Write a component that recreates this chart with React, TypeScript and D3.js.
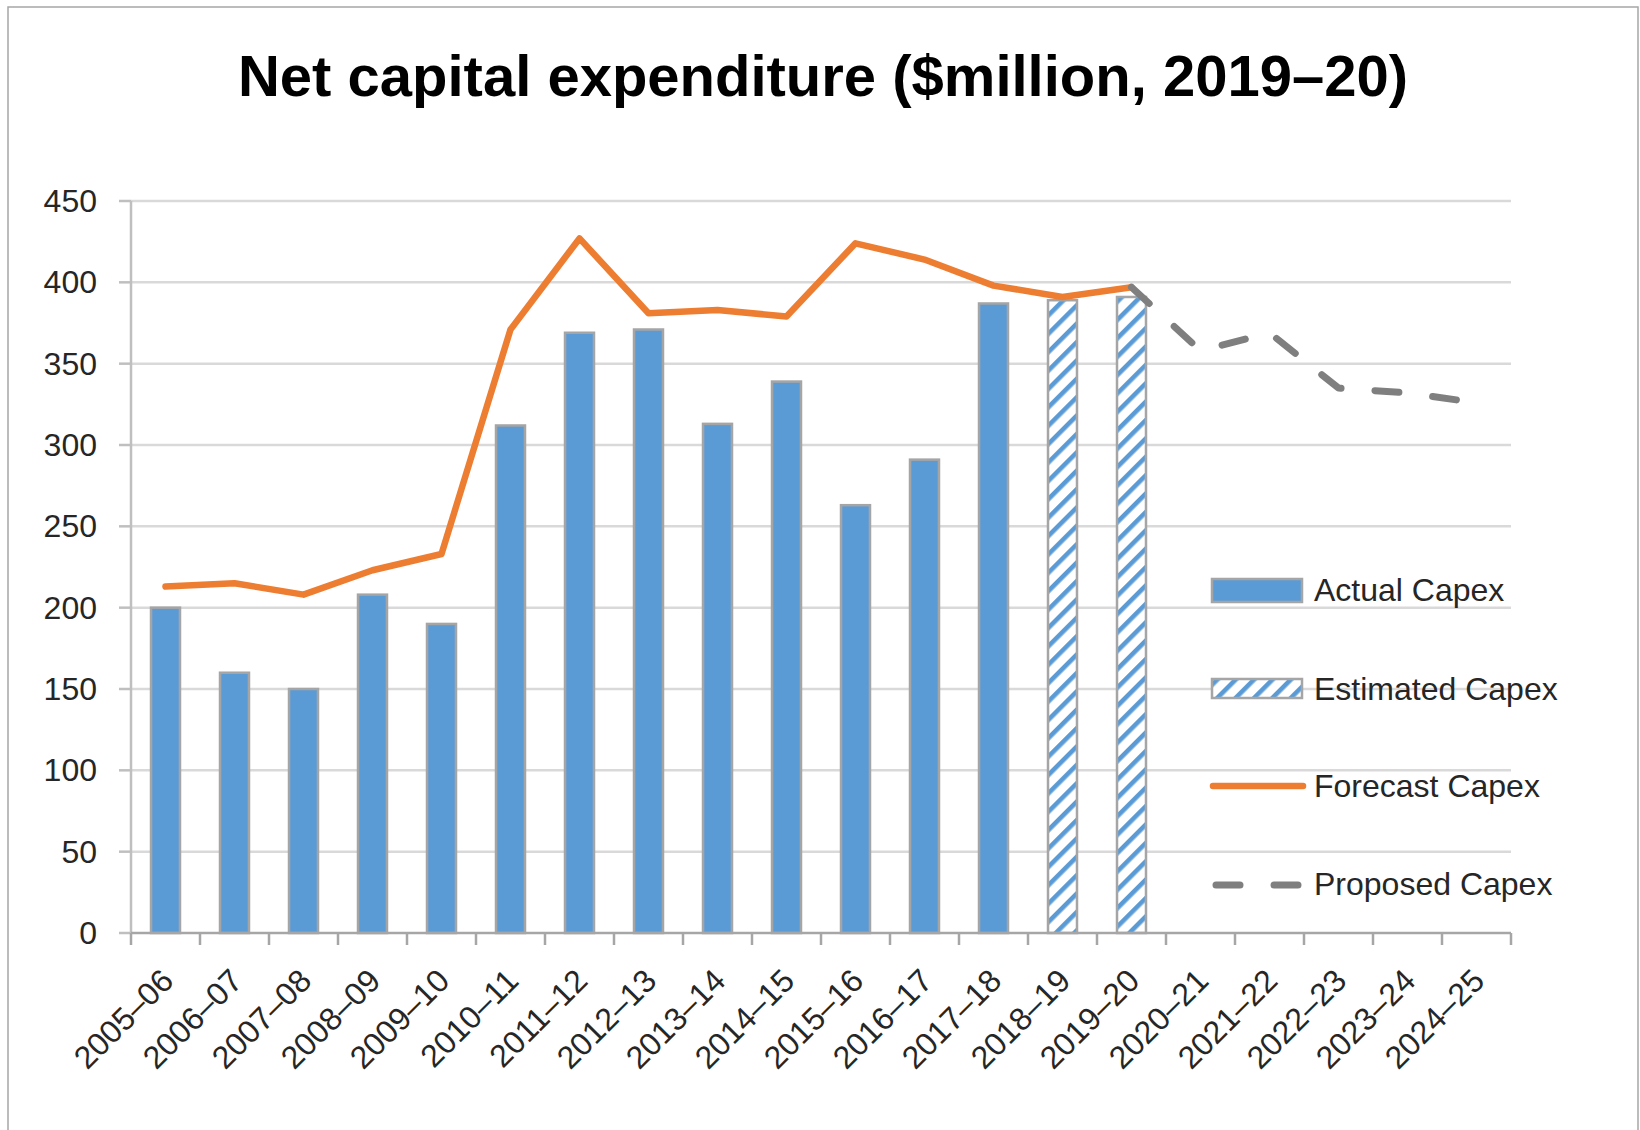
import React from "react";
import * as d3 from "d3";

const categories = [
  "2005–06", "2006–07", "2007–08", "2008–09", "2009–10", "2010–11", "2011–12",
  "2012–13", "2013–14", "2014–15", "2015–16", "2016–17", "2017–18", "2018–19",
  "2019–20", "2020–21", "2021–22", "2022–23", "2023–24", "2024–25",
];

const actualCats = categories.slice(0, 13);
const actualCapex = [200, 160, 150, 208, 190, 312, 369, 371, 313, 339, 263, 291, 387];

const estimatedCats = ["2018–19", "2019–20"];
const estimatedCapex = [389, 391];

const forecastCats = categories.slice(0, 15);
const forecastCapex = [213, 215, 208, 223, 233, 371, 427, 381, 383, 379, 424, 414, 398, 391, 397];

const proposedCats = categories.slice(14);
const proposedCapex = [397, 358, 369, 335, 332, 326];

const yTicks = [0, 50, 100, 150, 200, 250, 300, 350, 400, 450];

const legendItems = ["Actual Capex", "Estimated Capex", "Forecast Capex", "Proposed Capex"];

const W = 1640;
const H = 1130;
const left = 131;
const right = 1511;
const top = 201;
const bottom = 933;

const FONT = "'Liberation Sans', Arial, sans-serif";
const BLUE = "#5B9BD5";
const ORANGE = "#ED7D31";
const GREY = "#7F7F7F";
const BAR_STROKE = "#A5A5A5";

export default function App() {
  const x = d3
    .scaleBand<string>()
    .domain(categories)
    .range([left, right])
    .paddingInner(0.58)
    .paddingOuter(0.29);
  const y = d3.scaleLinear().domain([0, 450]).range([bottom, top]);
  const step = x.step();
  const cx = (c: string) => (x(c) as number) + x.bandwidth() / 2;

  const line = d3
    .line<[string, number]>()
    .x((d) => cx(d[0]))
    .y((d) => y(d[1]));

  const forecastPath = line(forecastCats.map((c, i) => [c, forecastCapex[i]] as [string, number]));
  const proposedPath = line(proposedCats.map((c, i) => [c, proposedCapex[i]] as [string, number]));

  const xEdges = d3.range(categories.length + 1).map((i) => left + i * step);

  const legX = 1212;
  const legTextX = 1314;
  const legRows = [590, 689, 786, 884];

  return (
    <svg
      width={W}
      height={H}
      viewBox={`0 0 ${W} ${H}`}
      style={{ position: "absolute", left: 0, top: 0, background: "#fff" }}
    >
      <defs>
        <pattern
          id="hatch"
          patternUnits="userSpaceOnUse"
          width={13}
          height={13}
          patternTransform="rotate(45)"
        >
          <rect x={0} y={0} width={13} height={13} fill="#fff" />
          <rect x={0} y={0} width={4.6} height={13} fill={BLUE} />
        </pattern>
      </defs>

      <rect x={0} y={0} width={W} height={H} fill="#fff" />
      <rect x={8} y={7} width={1630} height={1140} fill="none" stroke="#A6A6A6" strokeWidth={1.5} />

      <text
        x={823}
        y={96}
        textAnchor="middle"
        fontFamily={FONT}
        fontWeight="bold"
        fontSize={58}
        fill="#000"
      >
        Net capital expenditure ($million, 2019–20)
      </text>

      {/* gridlines */}
      {yTicks.map((t) =>
        t === 0 ? null : (
          <line key={t} x1={left} x2={right} y1={y(t)} y2={y(t)} stroke="#D9D9D9" strokeWidth={2.5} />
        )
      )}

      {/* y axis */}
      <line x1={left} x2={left} y1={top} y2={bottom} stroke="#BFBFBF" strokeWidth={2.5} />
      {yTicks.map((t) => (
        <g key={`yt${t}`}>
          <line x1={left - 12} x2={left} y1={y(t)} y2={y(t)} stroke="#BFBFBF" strokeWidth={2.5} />
          <text
            x={97}
            y={y(t)}
            textAnchor="end"
            dominantBaseline="central"
            fontFamily={FONT}
            fontSize={32}
            fill="#262626"
          >
            {t}
          </text>
        </g>
      ))}

      {/* bars: actual */}
      {actualCats.map((c, i) => (
        <rect
          key={c}
          x={x(c)}
          y={y(actualCapex[i])}
          width={x.bandwidth()}
          height={bottom - y(actualCapex[i])}
          fill={BLUE}
          stroke={BAR_STROKE}
          strokeWidth={2.5}
        />
      ))}
      {/* bars: estimated */}
      {estimatedCats.map((c, i) => (
        <rect
          key={c}
          x={x(c)}
          y={y(estimatedCapex[i])}
          width={x.bandwidth()}
          height={bottom - y(estimatedCapex[i])}
          fill="url(#hatch)"
          stroke={BAR_STROKE}
          strokeWidth={2.5}
        />
      ))}

      {/* x axis */}
      <line x1={left} x2={right} y1={bottom} y2={bottom} stroke="#A6A6A6" strokeWidth={2.5} />
      {xEdges.map((ex, i) => (
        <line key={`xt${i}`} x1={ex} x2={ex} y1={bottom} y2={bottom + 12} stroke="#A6A6A6" strokeWidth={2.5} />
      ))}
      {categories.map((c) => (
        <text
          key={`xl${c}`}
          transform={`translate(${cx(c) + 2},${bottom + 42}) rotate(-45)`}
          textAnchor="end"
          dominantBaseline="central"
          fontFamily={FONT}
          fontSize={32}
          fill="#262626"
        >
          {c}
        </text>
      ))}

      {/* lines */}
      <path
        d={forecastPath || ""}
        fill="none"
        stroke={ORANGE}
        strokeWidth={6.5}
        strokeLinejoin="round"
        strokeLinecap="round"
      />
      <path
        d={proposedPath || ""}
        fill="none"
        stroke={GREY}
        strokeWidth={7}
        strokeLinejoin="round"
        strokeLinecap="round"
        strokeDasharray="24 34"
      />

      {/* legend */}
      <rect x={legX} y={579} width={90} height={23} fill={BLUE} stroke={BAR_STROKE} strokeWidth={2.5} />
      <rect x={legX} y={679} width={90} height={19} fill="url(#hatch)" stroke={BAR_STROKE} strokeWidth={2.5} />
      <line x1={legX + 1} x2={legX + 91} y1={786} y2={786} stroke={ORANGE} strokeWidth={6.5} strokeLinecap="round" />
      <line
        x1={legX + 4}
        x2={legX + 92}
        y1={885}
        y2={885}
        stroke={GREY}
        strokeWidth={7}
        strokeLinecap="round"
        strokeDasharray="24 34"
      />
      {legendItems.map((t, i) => (
        <text
          key={t}
          x={legTextX}
          y={legRows[i]}
          dominantBaseline="central"
          fontFamily={FONT}
          fontSize={32}
          fill="#262626"
        >
          {t}
        </text>
      ))}
    </svg>
  );
}
